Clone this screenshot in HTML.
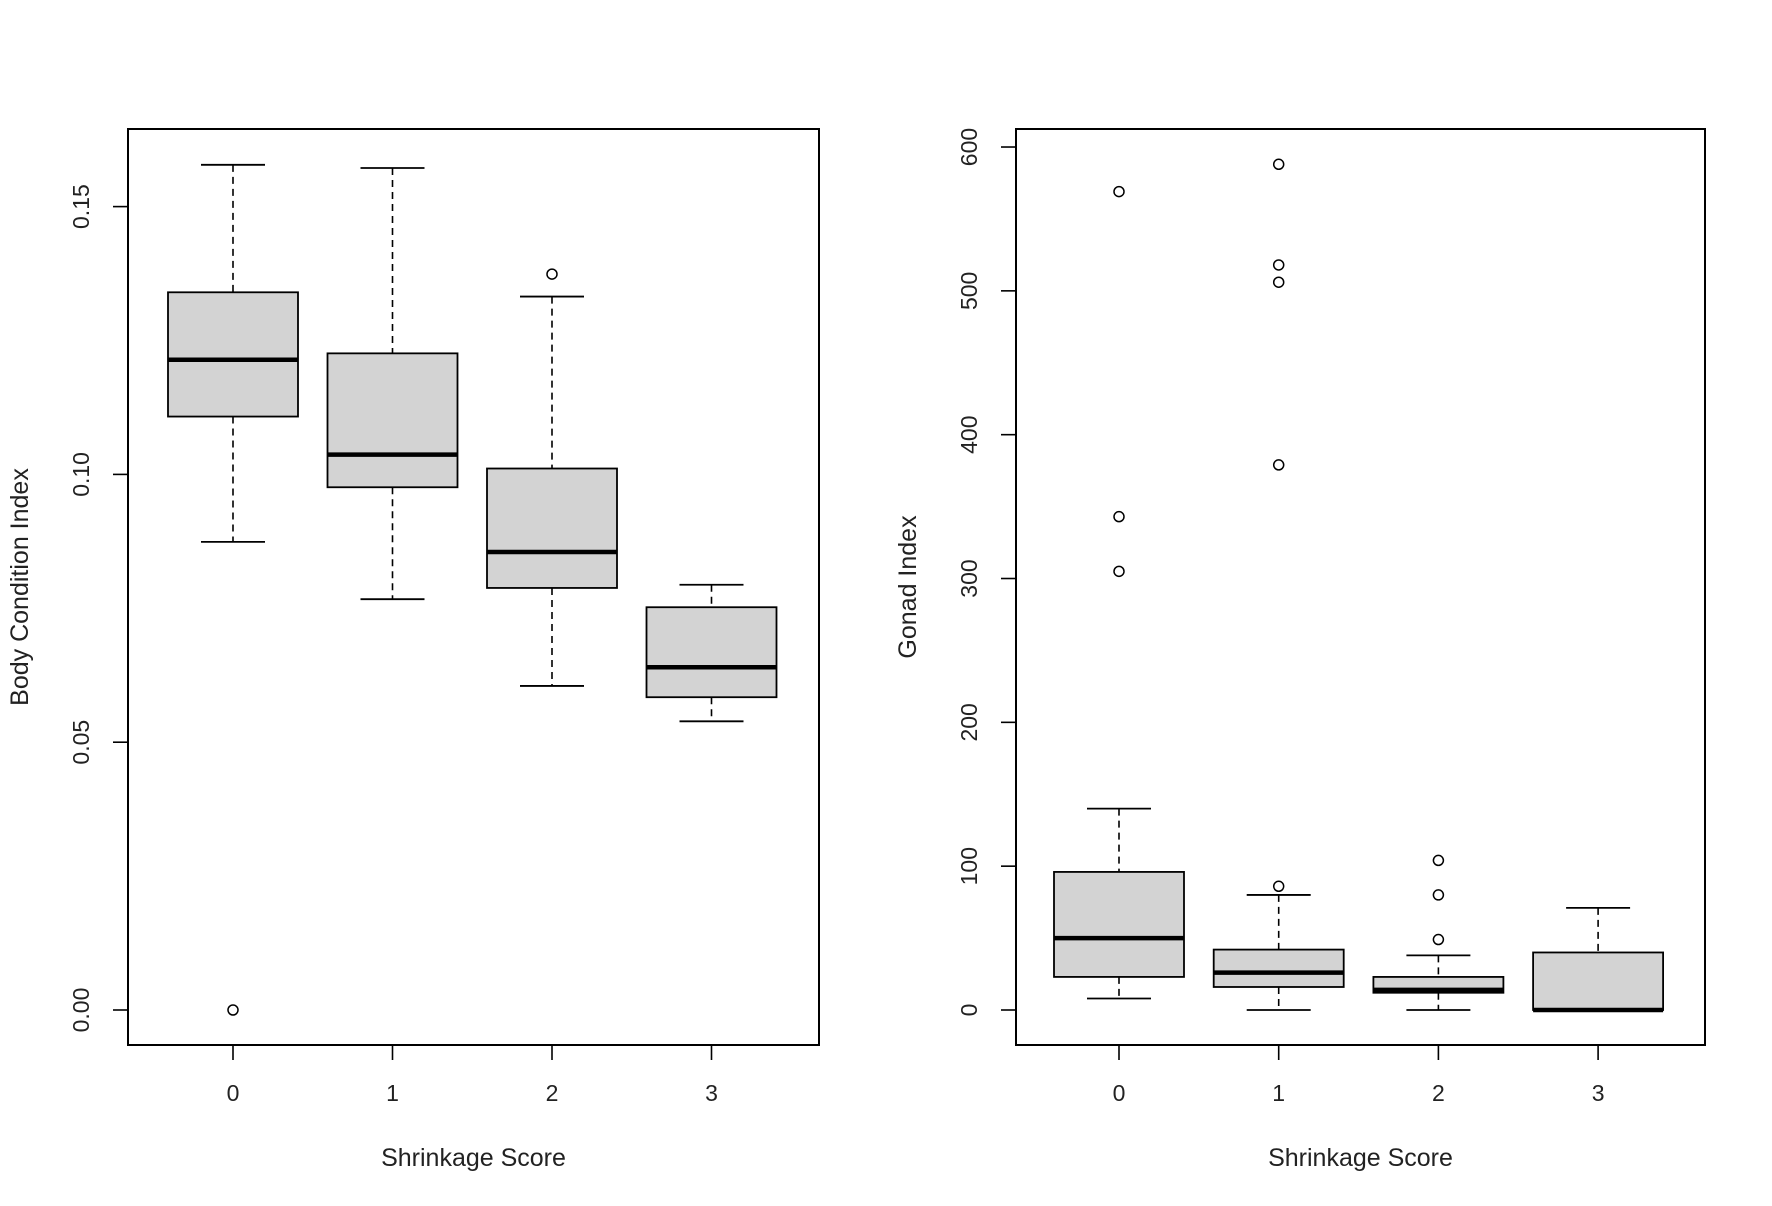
<!DOCTYPE html>
<html><head><meta charset="utf-8"><style>
body{margin:0;background:#fff;}
svg{display:block;font-family:"Liberation Sans",Arial,sans-serif;}
</style></head><body>
<svg id="chart" width="1772" height="1206" viewBox="0 0 1772 1206"></svg>
<script>
const categories = ["0","1","2","3"];
// left panel: body condition index [low, q1, median, q3, high]
const bciStats = [
  [0.0874,0.1108,0.1214,0.134,0.1578],
  [0.0767,0.0976,0.1037,0.1226,0.1572],
  [0.0605,0.0788,0.0855,0.1011,0.1332],
  [0.0539,0.0584,0.064,0.0752,0.0794]
];
const bciOutliers = [[0],[],[0.1374],[]];
const bciTicks = [0,0.05,0.10,0.15];
const bciTickLabels = ["0.00","0.05","0.10","0.15"];
// right panel: gonad index
const gonadStats = [
  [8,23,50,96,140],
  [0,16,26,42,80],
  [0,12,14,23,38],
  [0,0,0,40,71]
];
const gonadOutliers = [[569,343,305],[588,518,506,379,86],[104,80,49],[]];
const gonadTicks = [0,100,200,300,400,500,600];
const gonadTickLabels = ["0","100","200","300","400","500","600"];

const svg = document.getElementById('chart');
const NS = 'http://www.w3.org/2000/svg';
function mk(tag, attrs, parent){
  const e = document.createElementNS(NS, tag);
  for (const k in attrs) e.setAttribute(k, attrs[k]);
  (parent||svg).appendChild(e);
  return e;
}

function panel(cfg){
  const g = mk('g', {});
  
  
  const x = i => cfg.x0 + i * cfg.dx;
  const y = v => cfg.yZero - (v - cfg.vZero) * cfg.scale;
  const hw = 65;
  cfg.stats.forEach((s, i) => {
    const cx = x(i);
    const bg = mk('g', {}, g);
    
    
    mk('line', {x1:cx, x2:cx, y1:y(s[4]), y2:y(s[3]), stroke:'#000', 'stroke-width':1.6, 'stroke-dasharray':'7,5'}, bg);
    mk('line', {x1:cx, x2:cx, y1:y(s[1]), y2:y(s[0]), stroke:'#000', 'stroke-width':1.6, 'stroke-dasharray':'7,5'}, bg);
    mk('line', {x1:cx-32, x2:cx+32, y1:y(s[4]), y2:y(s[4]), stroke:'#000', 'stroke-width':1.8}, bg);
    mk('line', {x1:cx-32, x2:cx+32, y1:y(s[0]), y2:y(s[0]), stroke:'#000', 'stroke-width':1.8}, bg);
    mk('rect', {x:cx-hw, y:y(s[3]), width:2*hw, height:Math.max(y(s[1])-y(s[3]),0.1), fill:'#d3d3d3', stroke:'#000', 'stroke-width':1.8}, bg);
    mk('line', {x1:cx-hw, x2:cx+hw, y1:y(s[2]), y2:y(s[2]), stroke:'#000', 'stroke-width':4.5}, bg);
    cfg.outliers[i].forEach(v => {
      const c = mk('circle', {cx:cx, cy:y(v), r:5, fill:'none', stroke:'#000', 'stroke-width':1.5}, bg);
      
      
    });
  });
  const frame = mk('rect', {x:cfg.left, y:129, width:cfg.right-cfg.left, height:1045-129, fill:'none', stroke:'#000', 'stroke-width':2}, g);
  
  
  categories.forEach((c, i) => {
    mk('line', {x1:x(i), x2:x(i), y1:1045, y2:1060, stroke:'#000', 'stroke-width':1.6}, g);
    const t = mk('text', {x:x(i), y:1101, 'text-anchor':'middle', 'font-size':23, fill:'#222'}, g);
    t.textContent = c;
    
    
  });
  cfg.ticks.forEach((v, i) => {
    mk('line', {x1:cfg.left-15, x2:cfg.left, y1:y(v), y2:y(v), stroke:'#000', 'stroke-width':1.6}, g);
    const tx = cfg.left - 39;
    const t = mk('text', {x:tx, y:y(v), 'text-anchor':'middle', 'font-size':23, fill:'#222', transform:'rotate(-90 '+tx+' '+y(v)+')'}, g);
    t.textContent = cfg.tickLabels[i];
    
    
  });
  const xt = mk('text', {x:(cfg.left+cfg.right)/2, y:1166, 'text-anchor':'middle', 'font-size':25, fill:'#222'}, g);
  xt.textContent = 'Shrinkage Score';
  
  
  const yx = cfg.left - 100, yy = 587;
  const yt = mk('text', {x:yx, y:yy, 'text-anchor':'middle', 'font-size':25, fill:'#222', transform:'rotate(-90 '+yx+' '+yy+')'}, g);
  yt.textContent = cfg.ytitle;
  
  
}

panel({name:'body-condition-panel', short:'bci', left:128, right:819, x0:233, dx:159.5, yZero:1010, vZero:0, scale:5356,
  stats:bciStats, outliers:bciOutliers, ticks:bciTicks, tickLabels:bciTickLabels, ytitle:'Body Condition Index'});
panel({name:'gonad-index-panel', short:'gonad', left:1016, right:1705, x0:1119, dx:159.7, yZero:1010, vZero:0, scale:1.4383,
  stats:gonadStats, outliers:gonadOutliers, ticks:gonadTicks, tickLabels:gonadTickLabels, ytitle:'Gonad Index'});
</script>
</body></html>
